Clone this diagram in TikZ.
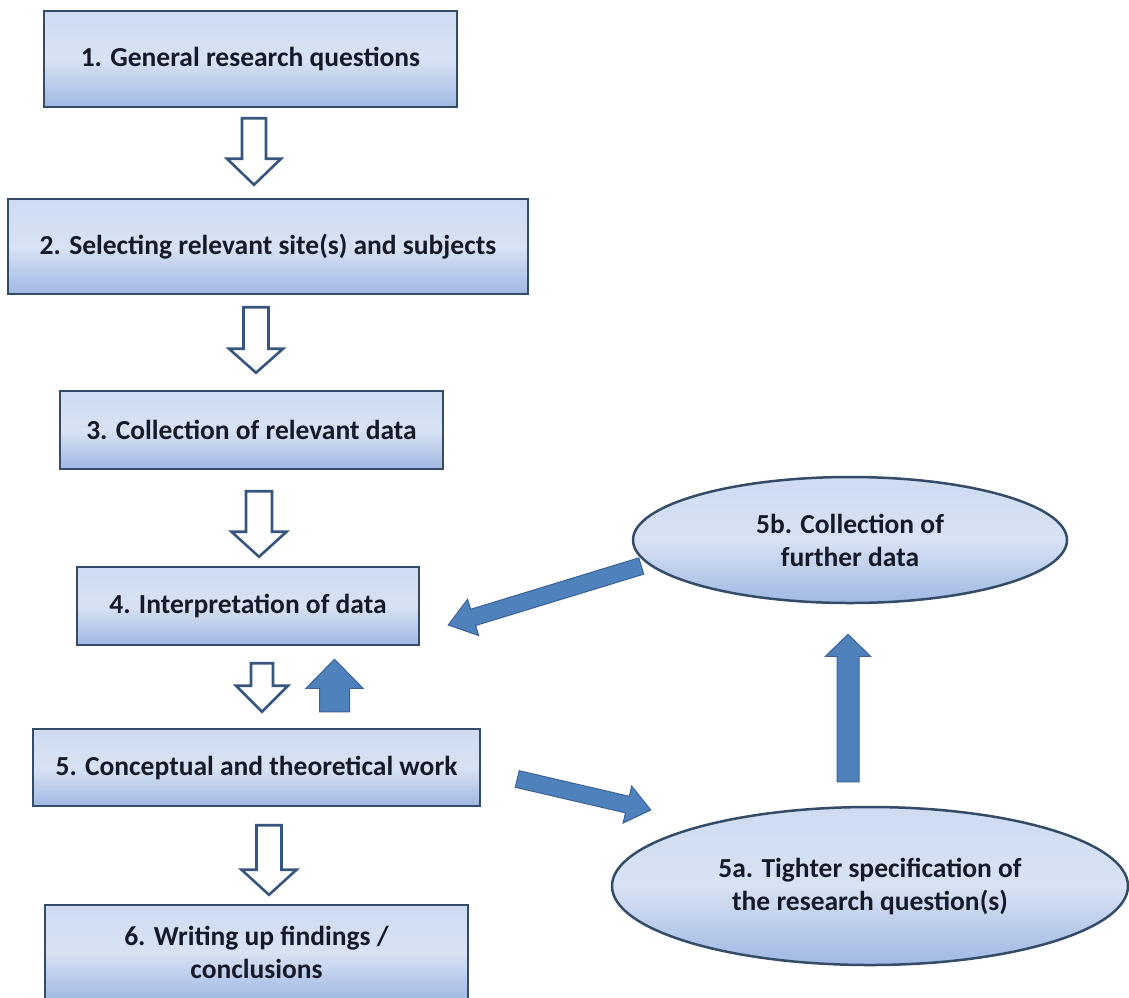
\documentclass[tikz,border=0pt]{standalone}
\usepackage{fontspec}
\setmainfont{Carlito}
\usetikzlibrary{calc,shapes.geometric}
\definecolor{boxline}{RGB}{52,76,104}
\definecolor{boxtop}{RGB}{206,219,241}
\definecolor{boxmid}{RGB}{216,226,244}
\definecolor{boxbot}{RGB}{160,184,227}
\definecolor{txt}{RGB}{22,26,40}
\definecolor{arrline}{RGB}{55,85,125}
\definecolor{arrfill}{RGB}{79,129,189}
\definecolor{arredge}{RGB}{58,98,148}
% #1 style, #2 start, #3 tip, #4 half shaft width, #5 half head width, #6 head length
\newcommand{\blockarrow}[6]{%
  \coordinate (baH) at ($(#3)!#6!(#2)$);
  \path[#1] ($(#2)!#4!90:(#3)$) -- ($(baH)!#4!-90:(#2)$) -- ($(baH)!#5!-90:(#2)$)
    -- (#3) -- ($(baH)!#5!90:(#2)$) -- ($(baH)!#4!90:(#2)$) -- ($(#2)!#4!-90:(#3)$) -- cycle;
}
\tikzset{
  stepbox/.style={draw=boxline, line width=2.5pt, top color=boxtop, bottom color=boxbot,
    middle color=boxmid, font=\fontsize{27.5}{33}\selectfont\bfseries, text=txt,
    align=center, inner sep=0pt},
  ovalbox/.style={stepbox, ellipse},
  hollowarrow/.style={fill=white, draw=arrline, line width=2.6pt, line join=miter},
  solidarrow/.style={fill=arrfill, draw=arredge, line width=1pt, line join=miter},
}
\begin{document}
\begin{tikzpicture}[x=1pt,y=-1pt]
\fill[white] (0,0) rectangle (1129,997);
\useasboundingbox (0,0) rectangle (1129,997);

% boxes
\node[stepbox, minimum width=413pt, minimum height=96pt] (b1) at (250.5,59) {1. General research questions};
\node[stepbox, minimum width=520pt, minimum height=95pt] (b2) at (268,246.5) {2. Selecting relevant site(s) and subjects};
\node[stepbox, minimum width=383pt, minimum height=78pt] (b3) at (251.5,430) {3. Collection of relevant data};
\node[stepbox, minimum width=342pt, minimum height=78pt] (b4) at (248,606) {4. Interpretation of data};
\node[stepbox, minimum width=447pt, minimum height=77pt] (b5) at (256.5,767.5) {5. Conceptual and theoretical work};
\node[stepbox, minimum width=423pt, minimum height=95pt] (b6) at (256.5,952.5) {6. Writing up findings /\\conclusions};

% hollow down arrows
\coordinate (a1s) at ($(b1.south)+(3.5,10)$);
\coordinate (a1e) at ($(b2.north)+(-14,-13)$);
\blockarrow{hollowarrow}{a1s}{a1e}{12pt}{27pt}{26pt}
\coordinate (a2s) at ($(b2.south)+(-12,12)$);
\coordinate (a2e) at ($(b3.north)+(4.5,-17)$);
\blockarrow{hollowarrow}{a2s}{a2e}{12.5pt}{27pt}{24pt}
\coordinate (a3s) at ($(b3.south)+(7.5,21)$);
\coordinate (a3e) at ($(b4.north)+(11,-9)$);
\blockarrow{hollowarrow}{a3s}{a3e}{13pt}{27.5pt}{25pt}
\coordinate (a4s) at ($(b4.south)+(14,17)$);
\coordinate (a4e) at ($(b5.north)+(5.5,-16)$);
\blockarrow{hollowarrow}{a4s}{a4e}{11pt}{26pt}{26pt}
\coordinate (a5s) at ($(b5.south)+(12.5,18)$);
\coordinate (a5e) at ($(b6.north)+(12.5,-9)$);
\blockarrow{hollowarrow}{a5s}{a5e}{12.5pt}{27.5pt}{25pt}

% solid up arrow 5 -> 4
\coordinate (u4s) at ($(b5.north)+(78,-16)$);
\coordinate (u4e) at ($(b4.south)+(86.5,13)$);
\blockarrow{solidarrow}{u4s}{u4e}{15pt}{28.5pt}{29pt}

% solid arrow 5b -> 4 (start tucked under the ellipse)
\coordinate (d1s) at ($(b4.east)+(221,-40)$);
\coordinate (d1e) at ($(b4.east)+(28,19)$);
\blockarrow{solidarrow}{d1s}{d1e}{8.5pt}{19pt}{26pt}

\node[ovalbox, minimum width=434pt, minimum height=126pt] (e5b) at (850,540) {5b. Collection of\\further data};
\node[ovalbox, minimum width=516pt, minimum height=158pt] (e5a) at (870,886) {5a. Tighter specification of\\the research question(s)};

\coordinate (d2s) at ($(b5.east)+(36,11.5)$);
\coordinate (d2e) at ($(e5a.west)+(40,-76)$);
\blockarrow{solidarrow}{d2s}{d2e}{8.5pt}{19pt}{24pt}

\coordinate (d3s) at ($(e5a.north)+(-22,-24)$);
\coordinate (d3e) at ($(e5b.south)+(-2,30)$);
\blockarrow{solidarrow}{d3s}{d3e}{11pt}{22.5pt}{22pt}
\end{tikzpicture}
\end{document}
